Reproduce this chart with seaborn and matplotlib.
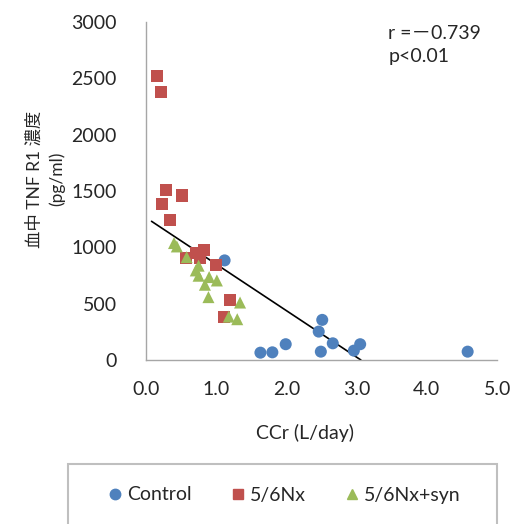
import numpy as np
import pandas as pd
import matplotlib
matplotlib.use("Agg")
import matplotlib.pyplot as plt
from matplotlib.patches import Rectangle
import seaborn as sns

# values
control_x = [1.12, 2.51, 2.46, 1.99, 1.63, 1.80, 2.49, 2.66, 2.96, 3.05, 4.58]
control_y = [884, 356, 252, 140, 65, 68, 74, 148, 83, 140, 74]

nx_x = [0.16, 0.21, 0.28, 0.51, 0.23, 0.34, 0.83, 0.72, 0.77, 0.57, 1.00, 1.20, 1.11]
nx_y = [2520, 2382, 1513, 1460, 1386, 1246, 979, 950, 905, 905, 846, 534, 385]

syn_x = [0.40, 0.44, 0.58, 0.75, 0.71, 0.75, 0.90, 1.01, 0.84, 0.89, 1.34, 1.18, 1.30]
syn_y = [1038, 1008, 913, 837, 795, 748, 736, 706, 668, 558, 510, 385, 362]

groups = ["Control", "5/6Nx", "5/6Nx+syn"]
colors = ["#4F81BD", "#C0504D", "#9BBB59"]

# regression line as drawn
fit_x = [0.08, 3.06]
fit_y = [1231, 0]

df = pd.DataFrame({
    "x": control_x + nx_x + syn_x,
    "y": control_y + nx_y + syn_y,
    "group": ["Control"] * len(control_x) + ["5/6Nx"] * len(nx_x) + ["5/6Nx+syn"] * len(syn_x),
})

sns.set_style("white")
plt.rcParams["font.family"] = ["Lato", "Noto Sans CJK JP", "DejaVu Sans"]

fig = plt.figure(figsize=(5.12, 5.24), dpi=100)
ax = fig.add_axes([0.285, 0.313, 0.686, 0.645])

sns.scatterplot(data=df, x="x", y="y", hue="group", style="group",
                hue_order=groups, style_order=groups,
                palette=dict(zip(groups, colors)),
                markers={"Control": "o", "5/6Nx": "s", "5/6Nx+syn": "^"},
                s=75, linewidth=0, ax=ax, legend=False, zorder=3)

sns.lineplot(x=fit_x, y=fit_y, color="black", linewidth=1.2, ax=ax, zorder=2)

ax.set_xlim(0, 5)
ax.set_ylim(0, 3000)
ax.set_xticks(np.arange(0, 5.5, 1.0))
ax.set_xticklabels([f"{v:.1f}" for v in np.arange(0, 5.5, 1.0)])
ax.set_yticks(range(0, 3001, 500))

for side in ["top", "right"]:
    ax.spines[side].set_visible(False)
for side in ["left", "bottom"]:
    ax.spines[side].set_color("#A6A6A6")
    ax.spines[side].set_linewidth(1.0)

ax.tick_params(axis="y", direction="out", length=8, color="#A6A6A6",
               labelsize=14, pad=13)
ax.tick_params(axis="x", direction="out", length=6, color="#A6A6A6",
               labelsize=14, pad=9)

ax.set_xlabel("CCr (L/day)", fontsize=14, va="top")
ax.xaxis.set_label_coords(0.453, -0.19)
ax.set_ylabel("血中 TNF R1 濃度\n(pg/ml)", fontsize=12.5, linespacing=1.4)
ax.yaxis.set_label_coords(-0.23, 0.535)

ax.text(0.69, 0.99, "r =－0.739\np<0.01", transform=ax.transAxes,
        fontsize=14, va="top", ha="left", linespacing=1.4)

# legend box at the bottom, partly cut off
fig.patches.append(Rectangle((68 / 512, -0.05), (497 - 68) / 512, 0.05 + (524 - 464) / 524,
                             transform=fig.transFigure, fill=False,
                             edgecolor="#BFBFBF", linewidth=1.5))

handles = [
    plt.Line2D([], [], marker=m, color=c, linestyle="none", markersize=7.5)
    for m, c in zip(["o", "s", "^"], colors)
]
fig.legend(handles, groups, loc="center", bbox_to_anchor=(0.553, (524 - 495) / 524),
           ncol=3, frameon=False, fontsize=14, handletextpad=0.1,
           columnspacing=1.9, handlelength=1.0)

fig.savefig("out.png", dpi=100)
